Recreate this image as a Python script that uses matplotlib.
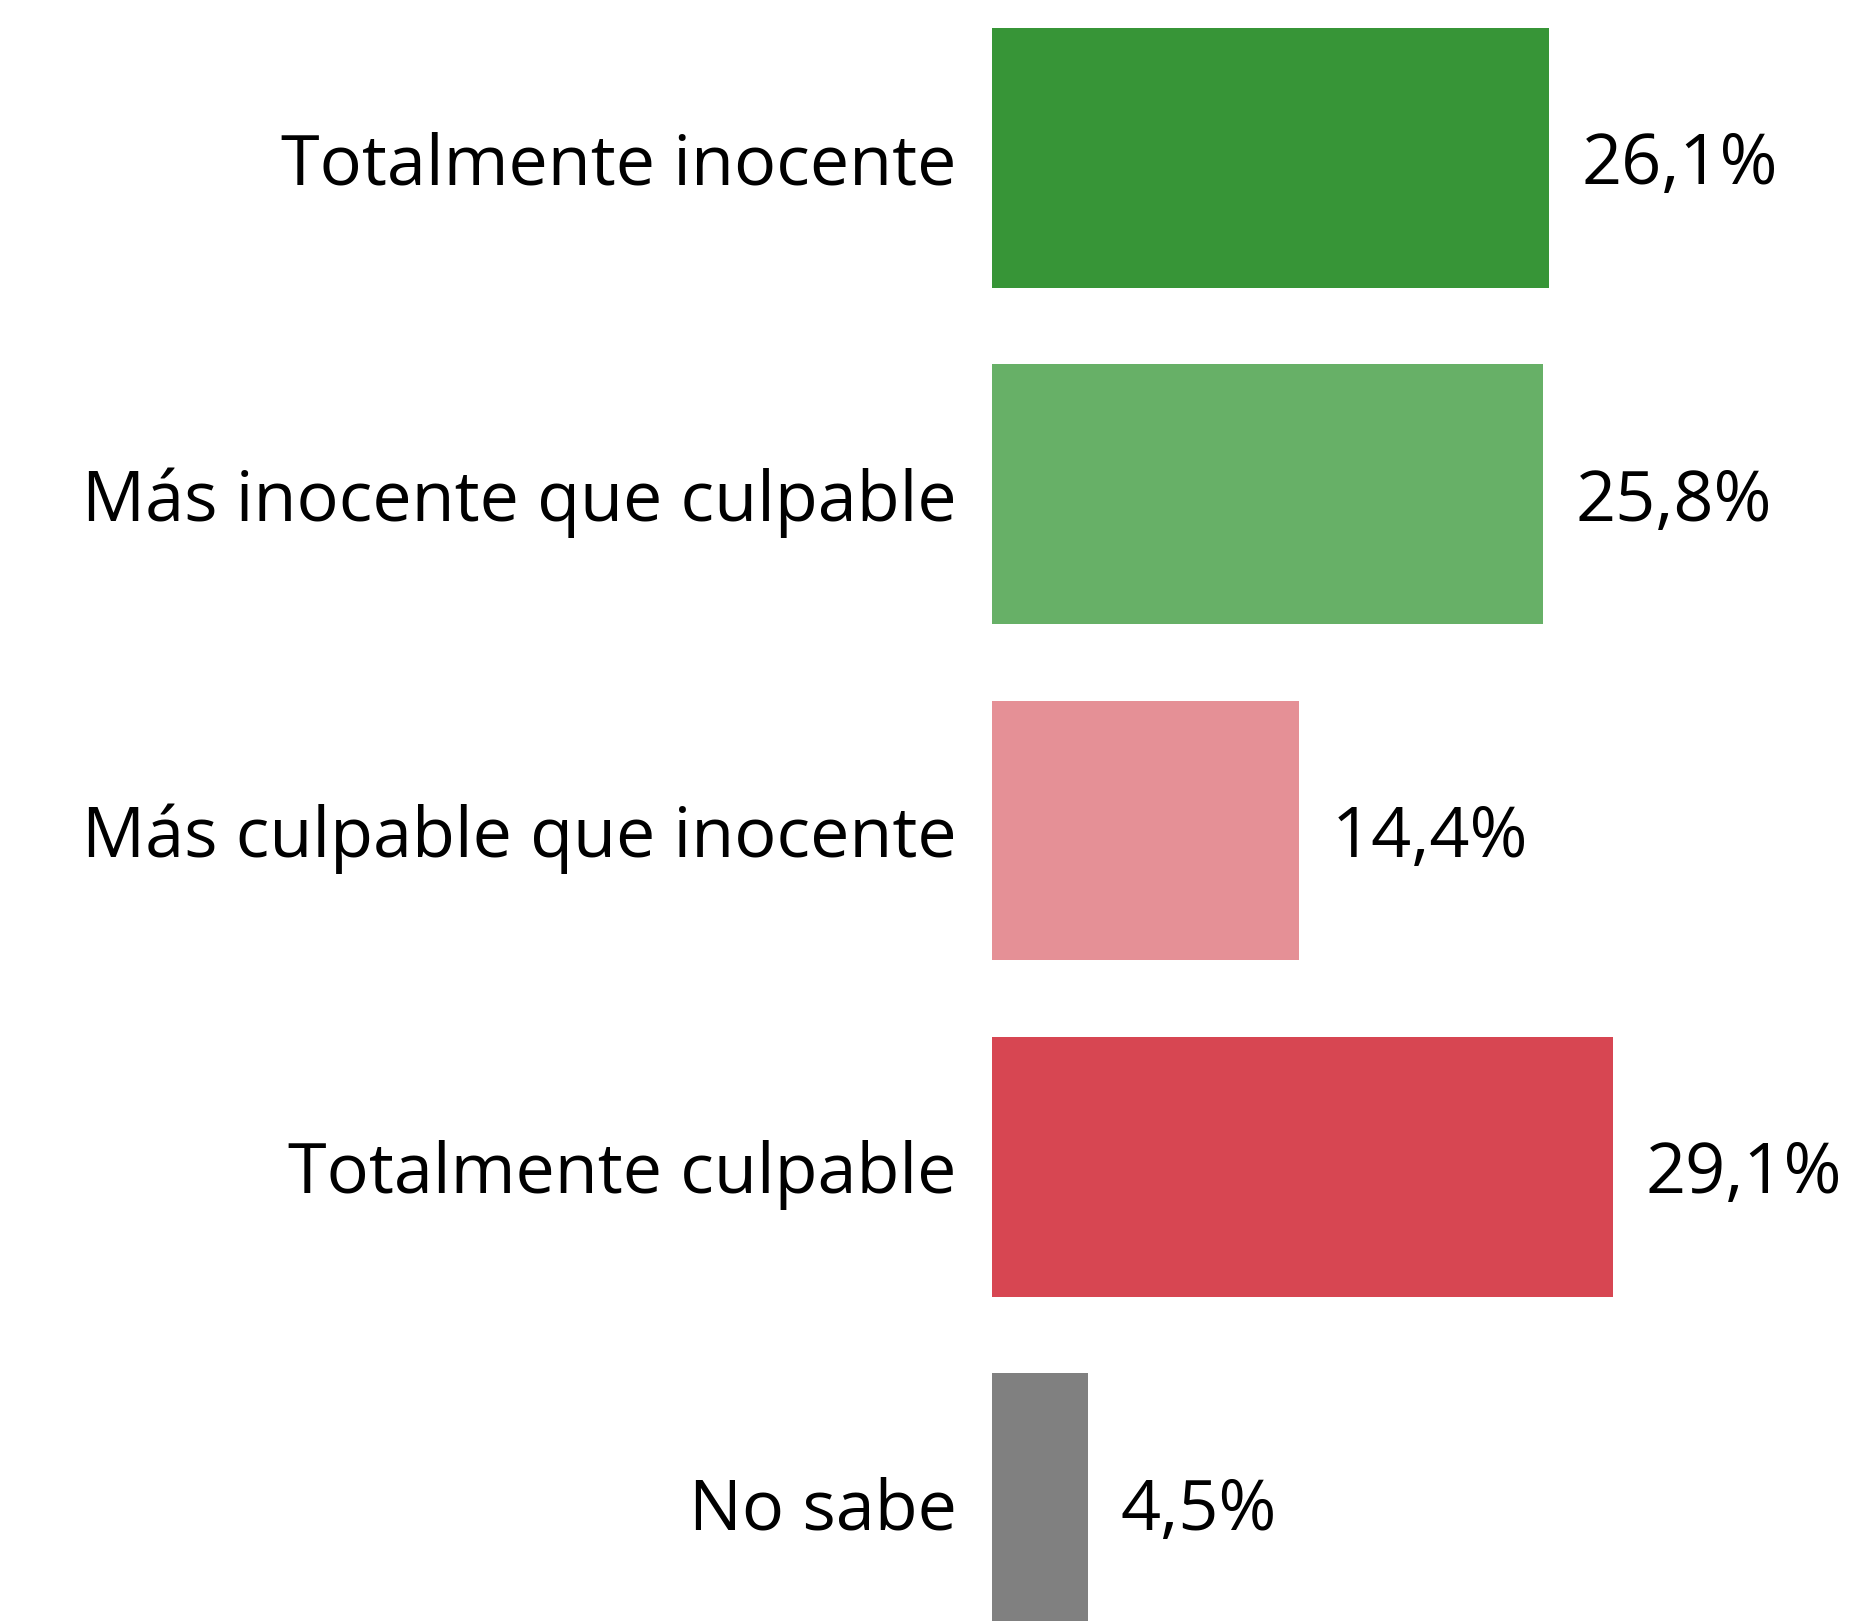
import matplotlib.pyplot as plt

plt.rcParams['font.family'] = ['Open Sans', 'DejaVu Sans']

categories = ['Totalmente inocente', 'Más inocente que culpable',
              'Más culpable que inocente', 'Totalmente culpable', 'No sabe']
values = [26.1, 25.8, 14.4, 29.1, 4.5]
labels = ['26,1%', '25,8%', '14,4%', '29,1%', '4,5%']
colors = ['#379537', '#67b067', '#e59096', '#d74652', '#808080']

W, H = 1860, 1621
x0 = 991.7      # bar origin in px
px_per_pct = 21.36
pitch = 336.3   # px between bar centers
first_center = 158.0

fig = plt.figure(figsize=(W / 100, H / 100), dpi=100)
ax = fig.add_axes([x0 / W, 0, (W - x0) / W, 1])

ypos = list(range(len(categories)))
ax.barh(ypos, values, height=0.772, color=colors)

ax.set_xlim(0, (W - x0) / px_per_pct)
top = -first_center / pitch
ax.set_ylim(top + H / pitch, top)
ax.axis('off')

fs = 50.5
dy = -0.357 * fs - 1  # baseline so the caps sit centred on the bar
for i, (cat, v, lab) in enumerate(zip(categories, values, labels)):
    ax.annotate(cat, xy=(0, i), xytext=(-25.3, dy), textcoords='offset points',
                ha='right', va='baseline', fontsize=fs, color='black',
                annotation_clip=False)
    ax.annotate(lab, xy=(v, i), xytext=(23.5, dy), textcoords='offset points',
                ha='left', va='baseline', fontsize=fs, color='black',
                annotation_clip=False)

fig.savefig('out.png', dpi=100)
